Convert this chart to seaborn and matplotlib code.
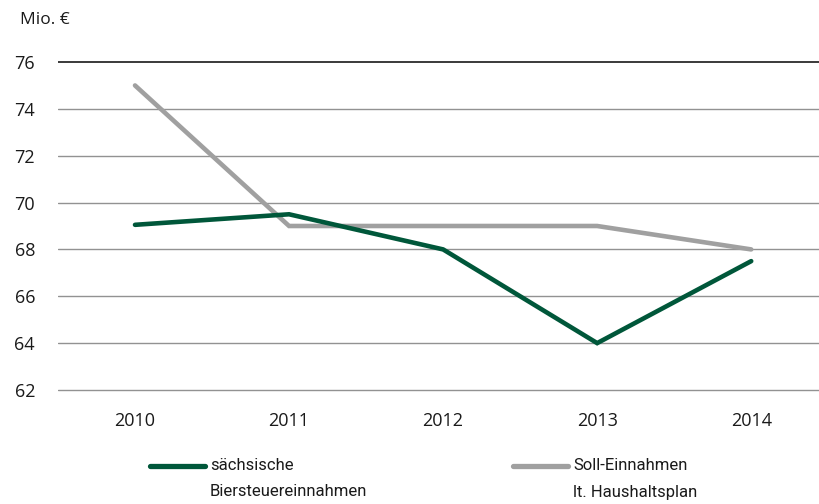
import matplotlib
matplotlib.use("Agg")
import matplotlib.pyplot as plt
from matplotlib.lines import Line2D
import seaborn as sns
import pandas as pd

# Yearly beer tax revenue in Saxony (million EUR)
years = ["2010", "2011", "2012", "2013", "2014"]
ist_values = [69.05, 69.5, 68.0, 64.0, 67.5]
soll_values = [75.0, 69.0, 69.0, 69.0, 68.0]
series_labels = ["sächsische\nBiersteuereinnahmen", "Soll-Einnahmen\nlt. Haushaltsplan"]
y_ticks = [62, 64, 66, 68, 70, 72, 74, 76]

GREEN = "#00573a"
GREY = "#a0a0a0"

sns.set_theme(style="white")
plt.rcParams["font.family"] = ["Open Sans", "DejaVu Sans"]

df = pd.DataFrame({
    "Wert": ist_values + soll_values,
    "Reihe": [series_labels[0]] * len(years) + [series_labels[1]] * len(years),
})
df["x"] = list(range(len(years))) * 2

fig = plt.figure(figsize=(8.19, 5.04), dpi=100)
ax = fig.add_axes([0.0708, 0.2216, 0.9292, 0.66])

sns.lineplot(
    data=df, x="x", y="Wert", hue="Reihe",
    hue_order=series_labels[::-1],
    palette={series_labels[0]: GREEN, series_labels[1]: GREY},
    linewidth=3.3, legend=False, ax=ax,
    solid_capstyle="round", solid_joinstyle="miter",
)

ax.set_xlim(-0.5, 4.44)
ax.set_ylim(61.9, 76.1)
ax.set_xticks(range(len(years)))
ax.set_xticklabels(years)
ax.set_yticks(y_ticks)
ax.set_yticklabels([str(v) for v in y_ticks])
ax.set_xlabel("")
ax.set_ylabel("")

for s in ax.spines.values():
    s.set_visible(False)

# horizontal gridlines; the top one drawn darker
for v in y_ticks:
    if v == y_ticks[-1]:
        ax.axhline(v, color="#3a3a3a", linewidth=1.4, zorder=0)
    else:
        ax.axhline(v, color="#929292", linewidth=1.0, zorder=0)

ax.tick_params(axis="both", length=0, labelsize=13, colors="#1a1a1a")
for t in ax.yaxis.get_major_ticks():
    t.set_pad(16.5)
for t in ax.xaxis.get_major_ticks():
    t.set_pad(14)

fig.text(20 / 819, 1 - 20 / 504, "Mio. €", fontsize=12.5, color="#1a1a1a",
         ha="left", va="center")

# legend
legend_font = ["Roboto", "DejaVu Sans"]
entries = [(150, 205, 210, series_labels[0], GREEN), (513, 568, 573, series_labels[1], GREY)]
for x0, x1, xt, label, col in entries:
    ly = 1 - 466 / 504
    fig.add_artist(Line2D([x0 / 819, x1 / 819], [ly, ly], color=col, linewidth=3.8,
                          solid_capstyle="round", transform=fig.transFigure))
    first, second = label.split("\n")
    fig.text(xt / 819, ly, first, fontsize=12, family=legend_font, color="#1a1a1a",
             ha="left", va="center")
    fig.text(xt / 819, 1 - 492 / 504, second, fontsize=12, family=legend_font,
             color="#1a1a1a", ha="left", va="center")

fig.savefig("out.png", dpi=100)
